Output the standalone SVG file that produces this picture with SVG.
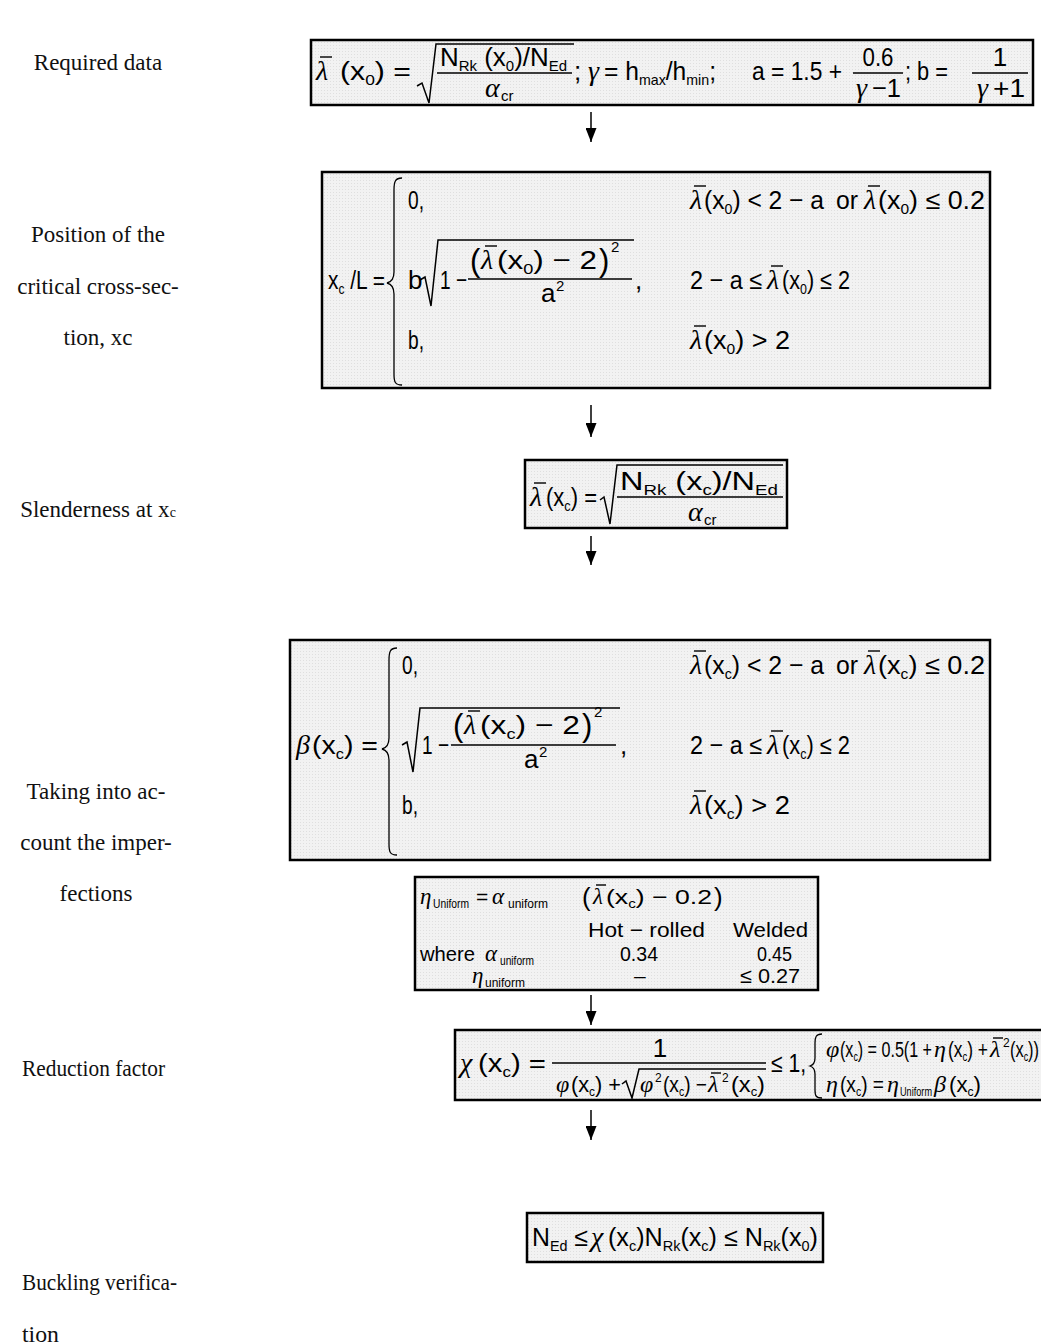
<svg xmlns="http://www.w3.org/2000/svg" width="1041" height="1344" viewBox="0 0 1041 1344">
<defs>
<pattern id="dots" width="3" height="3" patternUnits="userSpaceOnUse"><rect width="3" height="3" fill="#f2f2f2"/><rect width="1" height="1" fill="#dfdfdf"/></pattern>
<marker id="ah" viewBox="0 0 14 11" refX="14" refY="5.5" markerWidth="14" markerHeight="11" markerUnits="userSpaceOnUse" orient="auto"><path d="M0,0 L14,5.5 L0,11 z" fill="#000"/></marker>
<style>
.f{font-family:"Liberation Sans",Arial,sans-serif;font-size:26px;fill:#000}
.f21{font-size:21px}
.f22{font-size:22px}
.pb{font-size:31px}
.pb26{font-size:26px}
.sb{font-size:15px}
.sb12{font-size:12px}
.g{font-family:"Liberation Serif","Times New Roman",serif;font-style:italic;font-size:28px;fill:#000}
.g23{font-size:23px}
.g24{font-size:24px}
.lab{font-family:"Liberation Serif","Times New Roman",serif;font-size:23px;fill:#111}
.box{fill:url(#dots);stroke:#000;stroke-width:2.5}
.ln{stroke:#000;stroke-width:1.5;fill:none}
.ob{stroke:#000;stroke-width:1.4}
.br{stroke:#000;stroke-width:1.3;fill:none}
.conn line{stroke:#000;stroke-width:1.5;marker-end:url(#ah)}
</style>
</defs>
<rect width="1041" height="1344" fill="#fff"/>

<g id="labels">
<text class="lab" x="98" y="70" text-anchor="middle">Required data</text>
<text class="lab" x="98" y="242" text-anchor="middle">Position of the</text>
<text class="lab" x="98" y="294" text-anchor="middle">critical cross-sec-</text>
<text class="lab" x="98" y="345" text-anchor="middle">tion, xc</text>
<text class="lab" x="98" y="517" text-anchor="middle">Slenderness at x<tspan font-size="14">c</tspan></text>
<text class="lab" x="96" y="799" text-anchor="middle">Taking into ac-</text>
<text class="lab" x="96" y="850" text-anchor="middle">count the imper-</text>
<text class="lab" x="96" y="901" text-anchor="middle">fections</text>
<text class="lab" x="22" y="1076" textLength="143" lengthAdjust="spacingAndGlyphs">Reduction factor</text>
<text class="lab" x="22" y="1290" textLength="155" lengthAdjust="spacingAndGlyphs">Buckling verifica-</text>
<text class="lab" x="22" y="1342" textLength="37" lengthAdjust="spacingAndGlyphs">tion</text>
</g>

<g id="n1">
<rect class="box" x="311" y="40" width="722" height="65"/>
<text class="g" x="316" y="80">λ</text><line class="ob" x1="320" y1="57" x2="332" y2="57"/>
<text class="f" x="340" y="80" textLength="71" lengthAdjust="spacingAndGlyphs">(x<tspan class="sb" dy="5">0</tspan><tspan dy="-5">) =</tspan></text>
<path class="ln" d="M417,86 L422,83 L429,103 L436,44 L574,44"/>
<text class="f" x="440" y="66" textLength="127" lengthAdjust="spacingAndGlyphs">N<tspan class="sb" dy="5">Rk</tspan><tspan dy="-5"> (x</tspan><tspan class="sb" dy="5">0</tspan><tspan dy="-5">)/N</tspan><tspan class="sb" dy="5">Ed</tspan></text>
<line class="ln" x1="437" y1="73" x2="572" y2="73"/>
<text class="g" x="485" y="97">α</text><text class="f sb" x="501" y="101">cr</text>
<text class="f" x="574" y="80">;</text>
<text class="g" x="588" y="80">γ</text>
<text class="f" x="604" y="80" textLength="112" lengthAdjust="spacingAndGlyphs">= h<tspan class="sb" dy="5">max</tspan><tspan dy="-5">/h</tspan><tspan class="sb" dy="5">min</tspan><tspan dy="-5">;</tspan></text>
<text class="f" x="752" y="80" textLength="90" lengthAdjust="spacingAndGlyphs">a = 1.5 +</text>
<text class="f" x="878" y="66" text-anchor="middle" textLength="31" lengthAdjust="spacingAndGlyphs">0.6</text>
<line class="ln" x1="853" y1="73" x2="903" y2="73"/>
<text class="g" x="856" y="97">γ</text><text class="f" x="872" y="97" textLength="29" lengthAdjust="spacingAndGlyphs">−1</text>
<text class="f" x="905" y="80" textLength="43" lengthAdjust="spacingAndGlyphs">; b =</text>
<text class="f" x="1000" y="66" text-anchor="middle">1</text>
<line class="ln" x1="972" y1="73" x2="1028" y2="73"/>
<text class="g" x="977" y="97">γ</text><text class="f" x="993" y="97" textLength="32" lengthAdjust="spacingAndGlyphs">+1</text>
</g>

<g id="n2">
<rect class="box" x="322" y="172" width="668" height="216"/>
<text class="f" x="328" y="289" textLength="57" lengthAdjust="spacingAndGlyphs">x<tspan class="sb" dy="5">c</tspan><tspan dy="-5"> /L =</tspan></text>
<path class="br" d="M402,178 C395,178 394,182 394,190 L394,272 C394,279 391,282 387,283 C391,284 394,287 394,294 L394,374 C394,382 395,385 402,385"/>
<text class="f" x="408" y="209" textLength="16" lengthAdjust="spacingAndGlyphs">0,</text>
<text class="g" x="690" y="209">λ</text><line class="ob" x1="694" y1="186" x2="706" y2="186"/>
<text class="f" x="704" y="209" textLength="120" lengthAdjust="spacingAndGlyphs">(x<tspan class="sb" dy="5">0</tspan><tspan dy="-5">) &lt; 2 − a</tspan></text>
<text class="f" x="836" y="209" textLength="22" lengthAdjust="spacingAndGlyphs">or</text>
<text class="g" x="864" y="209">λ</text><line class="ob" x1="868" y1="186" x2="880" y2="186"/>
<text class="f" x="878" y="209" textLength="107" lengthAdjust="spacingAndGlyphs">(x<tspan class="sb" dy="5">0</tspan><tspan dy="-5">) ≤ 0.2</tspan></text>
<text class="f" x="408" y="289">b</text>
<path class="ln" d="M420,280 L425,277 L431,306 L438,240 L634,240"/>
<text class="f" x="440" y="289" textLength="27" lengthAdjust="spacingAndGlyphs">1 −</text>
<text class="f pb" x="470" y="271">(</text>
<text class="g" x="481" y="269">λ</text><line class="ob" x1="485" y1="246" x2="497" y2="246"/>
<text class="f" x="497" y="269" textLength="100" lengthAdjust="spacingAndGlyphs">(x<tspan class="sb" dy="5">0</tspan><tspan dy="-5">) − 2</tspan></text>
<text class="f pb" x="599" y="271">)</text>
<text class="f sb" x="611" y="252">2</text>
<line class="ln" x1="468" y1="279" x2="632" y2="279"/>
<text class="f" x="541" y="302">a</text><text class="f sb" x="556" y="291">2</text>
<text class="f" x="635" y="289">,</text>
<text class="f" x="690" y="289" textLength="72" lengthAdjust="spacingAndGlyphs">2 − a ≤</text>
<text class="g" x="767" y="289">λ</text><line class="ob" x1="771" y1="266" x2="783" y2="266"/>
<text class="f" x="782" y="289" textLength="68" lengthAdjust="spacingAndGlyphs">(x<tspan class="sb" dy="5">0</tspan><tspan dy="-5">) ≤ 2</tspan></text>
<text class="f" x="408" y="349" textLength="16" lengthAdjust="spacingAndGlyphs">b,</text>
<text class="g" x="690" y="349">λ</text><line class="ob" x1="694" y1="326" x2="706" y2="326"/>
<text class="f" x="704" y="349" textLength="86" lengthAdjust="spacingAndGlyphs">(x<tspan class="sb" dy="5">0</tspan><tspan dy="-5">) &gt; 2</tspan></text>
</g>

<g id="n3">
<rect class="box" x="525" y="460" width="262" height="68"/>
<text class="g" x="530" y="506">λ</text><line class="ob" x1="534" y1="483" x2="546" y2="483"/>
<text class="f" x="546" y="506" textLength="51" lengthAdjust="spacingAndGlyphs">(x<tspan class="sb" dy="5">c</tspan><tspan dy="-5">) =</tspan></text>
<path class="ln" d="M600,500 L604,497 L610,524 L617,465 L783,465"/>
<text class="f" x="620" y="490" textLength="158" lengthAdjust="spacingAndGlyphs">N<tspan class="sb" dy="5">Rk</tspan><tspan dy="-5"> (x</tspan><tspan class="sb" dy="5">c</tspan><tspan dy="-5">)/N</tspan><tspan class="sb" dy="5">Ed</tspan></text>
<line class="ln" x1="617" y1="497" x2="783" y2="497"/>
<text class="g" x="688" y="521">α</text><text class="f sb" x="704" y="525">cr</text>
</g>

<g id="n4">
<rect class="box" x="290" y="640" width="700" height="220"/>
<text class="g" x="296" y="754">β</text>
<text class="f" x="312" y="754" textLength="66" lengthAdjust="spacingAndGlyphs">(x<tspan class="sb" dy="5">c</tspan><tspan dy="-5">) =</tspan></text>
<path class="br" d="M397,648 C390,648 389,652 389,660 L389,738 C389,745 386,748 382,749 C386,750 389,753 389,760 L389,844 C389,852 390,855 397,855"/>
<text class="f" x="402" y="674" textLength="16" lengthAdjust="spacingAndGlyphs">0,</text>
<text class="g" x="690" y="674">λ</text><line class="ob" x1="694" y1="651" x2="706" y2="651"/>
<text class="f" x="704" y="674" textLength="120" lengthAdjust="spacingAndGlyphs">(x<tspan class="sb" dy="5">c</tspan><tspan dy="-5">) &lt; 2 − a</tspan></text>
<text class="f" x="836" y="674" textLength="22" lengthAdjust="spacingAndGlyphs">or</text>
<text class="g" x="864" y="674">λ</text><line class="ob" x1="868" y1="651" x2="880" y2="651"/>
<text class="f" x="878" y="674" textLength="107" lengthAdjust="spacingAndGlyphs">(x<tspan class="sb" dy="5">c</tspan><tspan dy="-5">) ≤ 0.2</tspan></text>
<path class="ln" d="M402,745 L407,742 L413,772 L420,708 L620,708"/>
<text class="f" x="422" y="754" textLength="27" lengthAdjust="spacingAndGlyphs">1 −</text>
<text class="f pb" x="453" y="736">(</text>
<text class="g" x="464" y="734">λ</text><line class="ob" x1="468" y1="711" x2="480" y2="711"/>
<text class="f" x="480" y="734" textLength="100" lengthAdjust="spacingAndGlyphs">(x<tspan class="sb" dy="5">c</tspan><tspan dy="-5">) − 2</tspan></text>
<text class="f pb" x="582" y="736">)</text>
<text class="f sb" x="594" y="717">2</text>
<line class="ln" x1="451" y1="745" x2="616" y2="745"/>
<text class="f" x="524" y="768">a</text><text class="f sb" x="539" y="757">2</text>
<text class="f" x="620" y="754">,</text>
<text class="f" x="690" y="754" textLength="72" lengthAdjust="spacingAndGlyphs">2 − a ≤</text>
<text class="g" x="767" y="754">λ</text><line class="ob" x1="771" y1="731" x2="783" y2="731"/>
<text class="f" x="782" y="754" textLength="68" lengthAdjust="spacingAndGlyphs">(x<tspan class="sb" dy="5">c</tspan><tspan dy="-5">) ≤ 2</tspan></text>
<text class="f" x="402" y="814" textLength="16" lengthAdjust="spacingAndGlyphs">b,</text>
<text class="g" x="690" y="814">λ</text><line class="ob" x1="694" y1="791" x2="706" y2="791"/>
<text class="f" x="704" y="814" textLength="86" lengthAdjust="spacingAndGlyphs">(x<tspan class="sb" dy="5">c</tspan><tspan dy="-5">) &gt; 2</tspan></text>
</g>

<g id="n5">
<rect class="box" x="415" y="877" width="403" height="113"/>
<text class="g g23" x="420" y="904">η</text>
<text class="f sb12" x="433" y="908" textLength="36" lengthAdjust="spacingAndGlyphs">Uniform</text>
<text class="f f21" x="476" y="904">=</text>
<text class="g g23" x="492" y="904">α</text>
<text class="f sb12" x="508" y="908" textLength="40" lengthAdjust="spacingAndGlyphs">uniform</text>
<text class="f pb26" x="582" y="906">(</text>
<text class="g g23" x="593" y="904">λ</text><line class="ob" x1="596" y1="885" x2="606" y2="885"/>
<text class="f f21" x="606" y="904" textLength="106" lengthAdjust="spacingAndGlyphs">(x<tspan class="sb12" dy="4">c</tspan><tspan dy="-4">) − 0.2</tspan></text>
<text class="f pb26" x="714" y="906">)</text>
<text class="f f21" x="588" y="937" textLength="117" lengthAdjust="spacingAndGlyphs">Hot − rolled</text>
<text class="f f21" x="733" y="937" textLength="75" lengthAdjust="spacingAndGlyphs">Welded</text>
<text class="f f21" x="420" y="961" textLength="55" lengthAdjust="spacingAndGlyphs">where</text>
<text class="g g23" x="485" y="961">α</text>
<text class="f sb12" x="500" y="965" textLength="34" lengthAdjust="spacingAndGlyphs">uniform</text>
<text class="f f21" x="620" y="961" textLength="38" lengthAdjust="spacingAndGlyphs">0.34</text>
<text class="f f21" x="757" y="961" textLength="35" lengthAdjust="spacingAndGlyphs">0.45</text>
<text class="g g23" x="472" y="983">η</text>
<text class="f sb12" x="485" y="987" textLength="40" lengthAdjust="spacingAndGlyphs">uniform</text>
<text class="f f21" x="634" y="983">–</text>
<text class="f f21" x="740" y="983" textLength="60" lengthAdjust="spacingAndGlyphs">≤ 0.27</text>
</g>

<g id="n6">
<rect class="box" x="455" y="1030" width="600" height="70"/>
<text class="g" x="460" y="1072">χ</text>
<text class="f" x="478" y="1072" textLength="68" lengthAdjust="spacingAndGlyphs">(x<tspan class="sb" dy="5">c</tspan><tspan dy="-5">) =</tspan></text>
<text class="f" x="660" y="1057" text-anchor="middle">1</text>
<line class="ln" x1="552" y1="1063" x2="766" y2="1063"/>
<text class="g g24" x="556" y="1092">φ</text>
<text class="f f22" x="571" y="1092" textLength="50" lengthAdjust="spacingAndGlyphs">(x<tspan class="sb12" dy="4">c</tspan><tspan dy="-4">) +</tspan></text>
<path class="ln" d="M622,1084 L626,1081 L632,1098 L639,1069 L766,1069"/>
<text class="g g24" x="640" y="1092">φ</text>
<text class="f sb12" x="655" y="1082">2</text>
<text class="f f22" x="663" y="1092" textLength="44" lengthAdjust="spacingAndGlyphs">(x<tspan class="sb12" dy="4">c</tspan><tspan dy="-4">) −</tspan></text>
<text class="g g24" x="708" y="1092">λ</text><line class="ob" x1="711" y1="1073" x2="721" y2="1073"/>
<text class="f sb12" x="722" y="1082">2</text>
<text class="f f22" x="731" y="1092" textLength="34" lengthAdjust="spacingAndGlyphs">(x<tspan class="sb12" dy="4">c</tspan><tspan dy="-4">)</tspan></text>
<text class="f" x="771" y="1072" textLength="35" lengthAdjust="spacingAndGlyphs">≤ 1,</text>
<path class="br" d="M822,1034 C816,1034 815,1037 815,1043 L815,1058 C815,1063 813,1065 810,1066 C813,1067 815,1069 815,1074 L815,1090 C815,1096 816,1098 822,1098"/>
<text class="g g24" x="826" y="1057">φ</text>
<text class="f f22" x="840" y="1057" textLength="92" lengthAdjust="spacingAndGlyphs">(x<tspan class="sb12" dy="4">c</tspan><tspan dy="-4">) = 0.5(1 +</tspan></text>
<text class="g g24" x="934" y="1057">η</text>
<text class="f f22" x="948" y="1057" textLength="40" lengthAdjust="spacingAndGlyphs">(x<tspan class="sb12" dy="4">c</tspan><tspan dy="-4">) +</tspan></text>
<text class="g g24" x="990" y="1057">λ</text><line class="ob" x1="993" y1="1038" x2="1003" y2="1038"/>
<text class="f sb12" x="1003" y="1047">2</text>
<text class="f f22" x="1010" y="1057" textLength="29" lengthAdjust="spacingAndGlyphs">(x<tspan class="sb12" dy="4">c</tspan><tspan dy="-4">))</tspan></text>
<text class="g g24" x="826" y="1092">η</text>
<text class="f f22" x="840" y="1092" textLength="44" lengthAdjust="spacingAndGlyphs">(x<tspan class="sb12" dy="4">c</tspan><tspan dy="-4">) =</tspan></text>
<text class="g g24" x="887" y="1092">η</text>
<text class="f sb12" x="900" y="1096" textLength="32" lengthAdjust="spacingAndGlyphs">Uniform</text>
<text class="g g24" x="934" y="1092">β</text>
<text class="f f22" x="949" y="1092" textLength="32" lengthAdjust="spacingAndGlyphs">(x<tspan class="sb12" dy="4">c</tspan><tspan dy="-4">)</tspan></text>
</g>

<g id="n7">
<rect class="box" x="527" y="1213" width="296" height="49"/>
<text class="f" x="532" y="1246" textLength="56" lengthAdjust="spacingAndGlyphs">N<tspan class="sb" dy="5">Ed</tspan><tspan dy="-5"> ≤</tspan></text>
<text class="g" x="591" y="1246">χ</text>
<text class="f" x="608" y="1246" textLength="210" lengthAdjust="spacingAndGlyphs">(x<tspan class="sb" dy="5">c</tspan><tspan dy="-5">)N</tspan><tspan class="sb" dy="5">Rk</tspan><tspan dy="-5">(x</tspan><tspan class="sb" dy="5">c</tspan><tspan dy="-5">) ≤ N</tspan><tspan class="sb" dy="5">Rk</tspan><tspan dy="-5">(x</tspan><tspan class="sb" dy="5">0</tspan><tspan dy="-5">)</tspan></text>
</g>

<g id="connectors" class="conn">
<line x1="591" y1="112" x2="591" y2="142"/>
<line x1="591" y1="405" x2="591" y2="437"/>
<line x1="591" y1="536" x2="591" y2="565"/>
<line x1="591" y1="995" x2="591" y2="1025"/>
<line x1="591" y1="1110" x2="591" y2="1140"/>
</g>
</svg>
